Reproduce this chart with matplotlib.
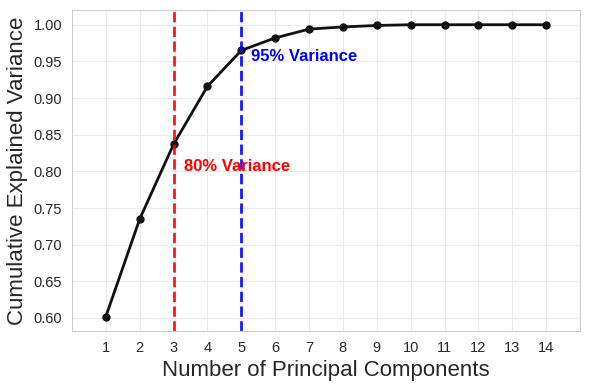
import matplotlib
matplotlib.use("Agg")
import matplotlib.pyplot as plt
import seaborn as sns

components = list(range(1, 15))
cum_variance = [0.602, 0.735, 0.837, 0.916, 0.965, 0.982, 0.994,
                0.997, 0.999, 1.000, 1.000, 1.000, 1.000, 1.000]
n80 = 3
n95 = 5

sns.set_style("whitegrid")
plt.rcParams['font.family'] = ['Liberation Sans', 'DejaVu Sans']

fig, ax = plt.subplots(figsize=(5.9, 3.9), dpi=100)
fig.subplots_adjust(left=0.122, right=0.983, top=0.974, bottom=0.151)

ax.plot(components, cum_variance, 'o-', color='#111111', linewidth=2, markersize=5)
ax.axvline(n80, color='red', linestyle='--', linewidth=2, alpha=0.9)
ax.axvline(n95, color='blue', linestyle='--', linewidth=2, alpha=0.9)
ax.text(n80 + 0.3, 0.80, '80% Variance', color='red', fontsize=12, fontweight='bold')
ax.text(n95 + 0.3, 0.95, '95% Variance', color='blue', fontsize=12, fontweight='bold')

ax.set_xlim(0, 15)
ax.set_xticks(components)
ax.set_xlabel('Number of Principal Components', fontsize=16)
ax.set_ylabel('Cumulative Explained Variance', fontsize=16)
ax.tick_params(labelsize=10.5)
ax.grid(True, color='#ebebeb', linewidth=0.8)
for s in ax.spines.values():
    s.set_color('#cccccc')

fig.savefig('out.png', dpi=100)
